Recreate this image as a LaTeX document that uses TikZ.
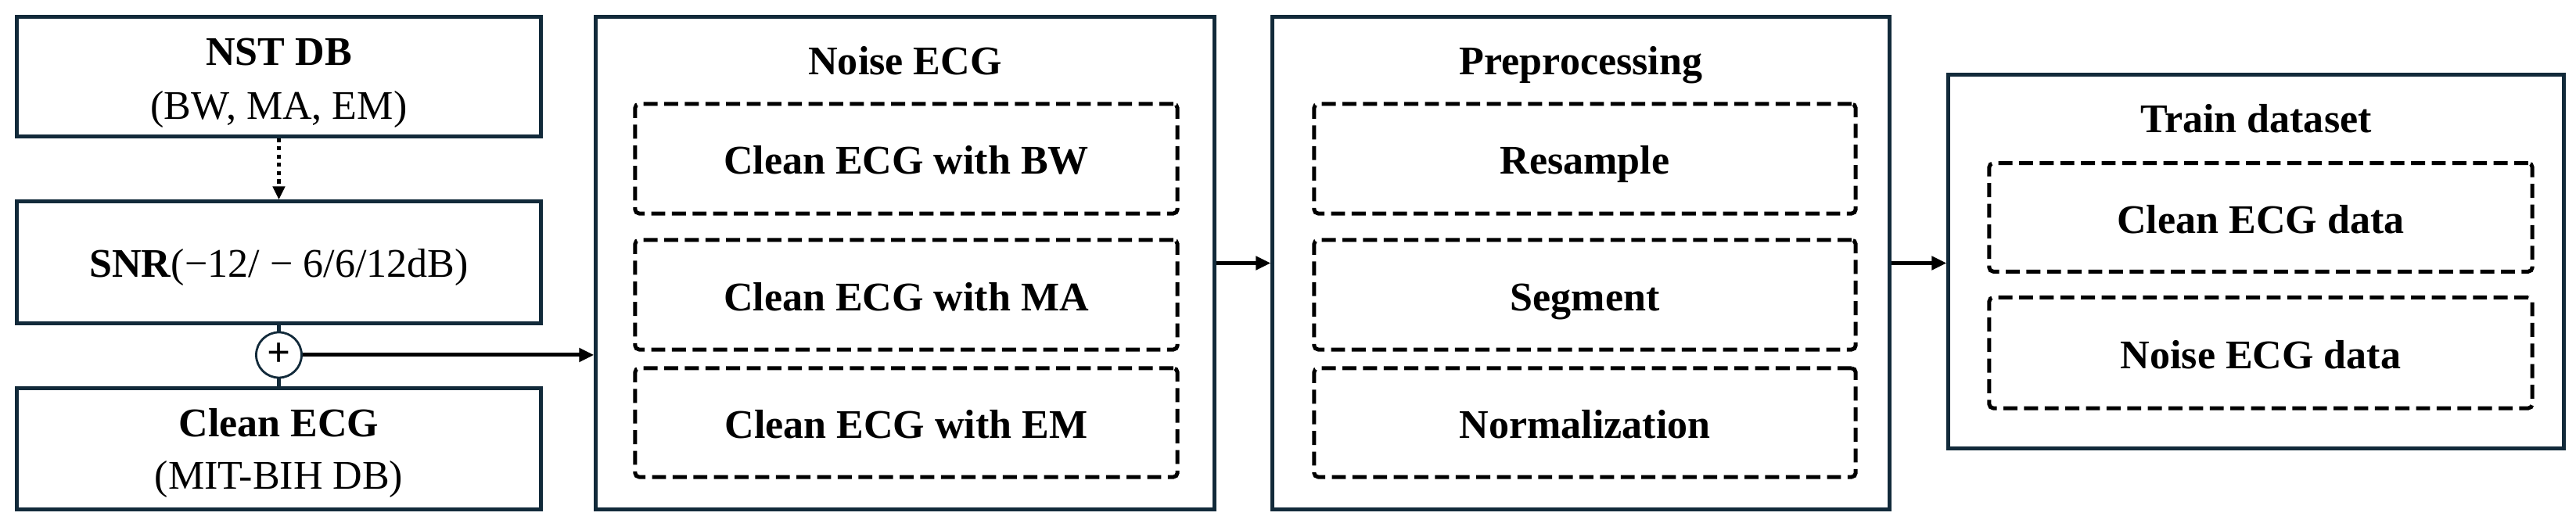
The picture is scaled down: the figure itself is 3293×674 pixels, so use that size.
\documentclass[tikz,border=0pt]{standalone}
\usepackage{fontspec}
\setmainfont{Liberation Serif}
\usetikzlibrary{arrows.meta}
\definecolor{navy}{RGB}{18,42,58}
\tikzset{
  solidbox/.style 2 args={draw=navy, line width=1.42pt, minimum width=#1, minimum height=#2, inner sep=0pt, fill=white},
  dashbox/.style 2 args={draw=black, line width=1.42pt, dash pattern=on 5.1pt off 2.4pt, rounded corners=1.5pt, minimum width=#1, minimum height=#2, inner sep=0pt, text height=0.40cm, text depth=0cm, font=\bfseries\fontsize{14.8pt}{17.8pt}\selectfont},
  lbl/.style={anchor=base, inner sep=0pt, font=\fontsize{14.8pt}{17.8pt}\selectfont},
  blbl/.style={lbl, font=\bfseries\fontsize{14.8pt}{17.8pt}\selectfont},
  flow/.style={draw=black, line width=1.42pt, -{Triangle[length=0.19cm,width=0.17cm]}},
  link/.style={draw=navy, line width=1.42pt},
}
\begin{document}
\begin{tikzpicture}[x=0.01cm,y=-0.01cm]
\useasboundingbox (0,0) rectangle (3293,674);
% left column
\node[solidbox={6.69cm}{1.52cm}] (nst) at (356.5,98) {};
\node[blbl] (nstt) at (356.5,84) {NST DB};
\node[lbl] (nsts) at (356.5,152.6) {(BW, MA, EM)};
\node[solidbox={6.69cm}{1.55cm}] (snr) at (356.5,335.5) {};
\node[lbl] (snrt) at (356.5,354.7) {\textbf{SNR}(−12/ − 6/6/12dB)};
\node[solidbox={6.69cm}{1.54cm}] (clean) at (356.5,574) {};
\node[blbl] (cleant) at (356.5,559) {Clean ECG};
\node[lbl] (cleans) at (356.5,625.5) {(MIT-BIH DB)};
\node[circle, draw=navy, line width=0.8pt, fill=white, minimum size=0.58cm, inner sep=0pt, font=\bfseries\fontsize{15pt}{15pt}\selectfont] (plus) at (356.5,454) {\raisebox{0.3pt}{+}};
\draw[link] (snr.south) -- (plus.north);
\draw[link] (plus.south) -- (clean.north);
\draw[draw=black, line width=1.4pt, dash pattern=on 1.5pt off 1.5pt, -{Triangle[length=0.17cm,width=0.15cm]}] (nst.south) -- (snr.north);
% Noise ECG
\node[solidbox={7.90cm}{6.29cm}] (noise) at (1157,336.5) {};
\node[blbl] (noiset) at (1157,95.5) {Noise ECG};
\node[dashbox={6.93cm}{1.40cm}] (nbw) at (1158.5,203) {Clean ECG with BW};
\node[dashbox={6.93cm}{1.40cm}] (nma) at (1158.5,377) {Clean ECG with MA};
\node[dashbox={6.93cm}{1.39cm}] (nem) at (1158.5,540.5) {Clean ECG with EM};
% Preprocessing
\node[solidbox={7.88cm}{6.29cm}] (prep) at (2021,336.5) {};
\node[blbl] (prept) at (2021,95.5) {Preprocessing};
\node[dashbox={6.92cm}{1.40cm}] (pres) at (2026,203) {Resample};
\node[dashbox={6.92cm}{1.40cm}] (pseg) at (2026,377) {Segment};
\node[dashbox={6.92cm}{1.39cm}] (pnorm) at (2026,540.5) {Normalization};
% Train dataset
\node[solidbox={7.86cm}{4.775cm}] (train) at (2884,334.25) {};
\node[blbl] (traint) at (2884,170) {Train dataset};
\node[dashbox={6.94cm}{1.385cm}] (tclean) at (2890,278) {Clean ECG data};
\node[dashbox={6.94cm}{1.415cm}] (tnoise) at (2890,451.25) {Noise ECG data};
% flow arrows
\draw[flow] (plus.east) -- (plus.east -| noise.west);
\draw[flow] (noise.east) -- (prep.west);
\draw[flow] (prep.east) -- (prep.east -| train.west);
\end{tikzpicture}
\end{document}
